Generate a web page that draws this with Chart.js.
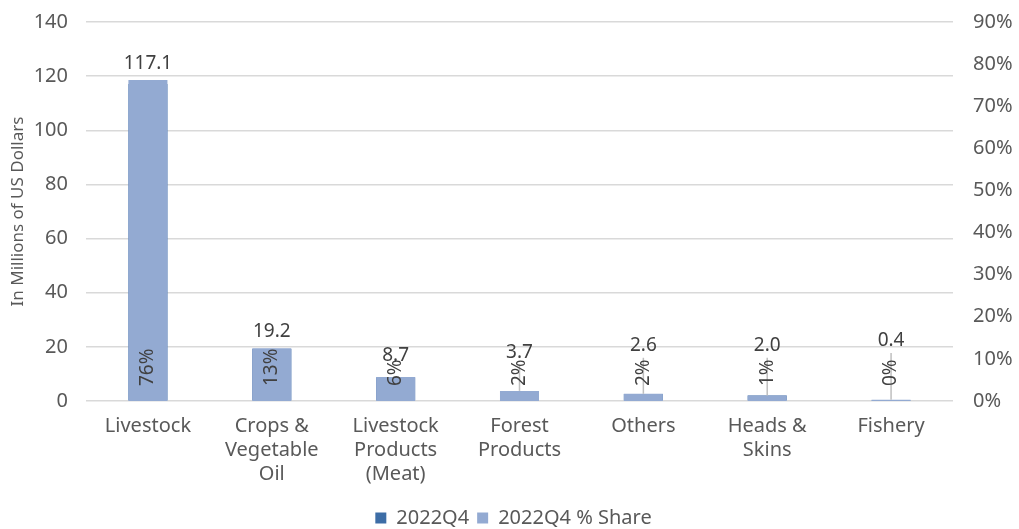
<!DOCTYPE html>
<html><head><meta charset="utf-8">
<script src="https://cdn.jsdelivr.net/npm/chart.js@4/dist/chart.umd.min.js"></script>
<style>html,body{margin:0;padding:0;background:#fff}#w{width:1019px;height:529px}</style>
</head><body><div id="w"><canvas id="c"></canvas></div>
<script>
const categories = [['Livestock'], ['Crops &','Vegetable','Oil'], ['Livestock','Products','(Meat)'], ['Forest','Products'], ['Others'], ['Heads &','Skins'], ['Fishery']];
const values2022Q4 = [117.1, 19.2, 8.7, 3.7, 2.6, 2.0, 0.4];
const shares2022Q4 = [76.2, 12.5, 5.7, 2.4, 1.7, 1.3, 0.3];
const shareLabels = ['76%','13%','6%','2%','2%','1%','0%'];
const valueLabels = ['117.1','19.2','8.7','3.7','2.6','2.0','0.4'];
// manual label anchors (left-axis units) for moved labels; null = above bar
const labelAnchors = [null, null, 16.7, 17.8, 20.4, 20.4, 22.2];

const FONT = '"Noto Sans", sans-serif';
const labelPlugin = {
  id: 'labels',
  afterDatasetsDraw(chart) {
    const ctx = chart.ctx;
    const yL = chart.scales.y;
    const metaShare = chart.getDatasetMeta(1);
    ctx.save();
    metaShare.data.forEach((bar, i) => {
      const x = bar.x;
      const top = bar.y;
      let ly;
      if (labelAnchors[i] === null) ly = top - 17;
      else ly = yL.getPixelForValue(labelAnchors[i]);
      if (labelAnchors[i] !== null && i >= 3) {
        ctx.strokeStyle = '#bfbfbf';
        ctx.lineWidth = 1.5;
        ctx.beginPath();
        ctx.moveTo(x, ly + 12);
        ctx.lineTo(x, top);
        ctx.stroke();
      }
      ctx.fillStyle = '#404040';
      ctx.font = '19px ' + FONT;
      ctx.textAlign = 'center';
      ctx.textBaseline = 'middle';
      ctx.fillText(valueLabels[i], x, ly);
      ctx.save();
      ctx.translate(x, yL.getPixelForValue(0) - 15);
      ctx.rotate(-Math.PI / 2);
      ctx.textAlign = 'left';
      ctx.textBaseline = 'middle';
      ctx.fillText(shareLabels[i], 0, 0);
      ctx.restore();
    });
    ctx.restore();
  }
};

new Chart(document.getElementById('c'), {
  type: 'bar',
  data: {
    labels: categories,
    datasets: [
      { label: '2022Q4', data: values2022Q4, backgroundColor: '#3d6da6', yAxisID: 'y', order: 1 },
      { label: '2022Q4 % Share', data: shares2022Q4, backgroundColor: '#93aad2', yAxisID: 'y1', order: 0 }
    ]
  },
  options: {
    responsive: true,
    maintainAspectRatio: false,
    animation: false,
    devicePixelRatio: 1,
    layout: { padding: { top: 22, left: 8, right: 0, bottom: -9 } },
    datasets: { bar: { grouped: false, categoryPercentage: 1, barPercentage: 0.315 } },
    plugins: {
      tooltip: { enabled: false },
      legend: {
        position: 'bottom',
        labels: {
          boxWidth: 11, boxHeight: 11, color: '#595959', padding: 8,
          font: { family: FONT, size: 20 },
          sort: (a, b) => a.datasetIndex - b.datasetIndex
        }
      }
    },
    scales: {
      x: {
        grid: { display: false },
        border: { display: false },
        ticks: { color: '#595959', font: { family: FONT, size: 20, lineHeight: 1.2 }, maxRotation: 0, autoSkip: false, padding: 5 },
        afterFit(s) { s.height = 99; s.paddingTop = 0; s.paddingBottom = 0; }
      },
      y: {
        position: 'left', min: 0, max: 140,
        ticks: { stepSize: 20, color: '#595959', font: { family: FONT, size: 20 }, padding: 18 },
        grid: { color: '#d9d9d9', lineWidth: 1.5, drawTicks: false },
        border: { display: false },
        title: { display: true, text: 'In Millions of US Dollars', color: '#595959', font: { family: FONT, size: 17 }, padding: 0 },
        afterFit(s) { s.width = 78; s.paddingTop = 0; s.paddingBottom = 0; }
      },
      y1: {
        position: 'right', min: 0, max: 90,
        ticks: { stepSize: 10, color: '#595959', font: { family: FONT, size: 20 }, padding: 20, callback: v => v + '%' },
        grid: { display: false, drawTicks: false },
        border: { display: false },
        afterFit(s) { s.width = 66; s.paddingTop = 0; s.paddingBottom = 0; }
      }
    }
  },
  plugins: [labelPlugin]
});
</script>
</body></html>
